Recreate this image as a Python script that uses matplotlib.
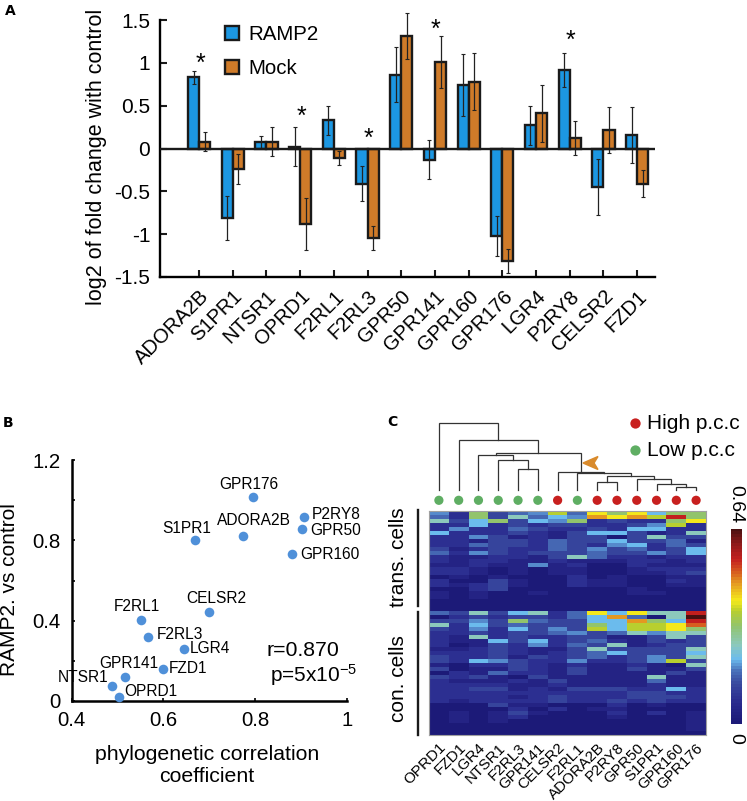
import numpy as np
import matplotlib
matplotlib.use('Agg')
import matplotlib.pyplot as plt
from matplotlib.colors import LinearSegmentedColormap
from matplotlib.patches import Polygon

plt.rcParams['font.family'] = ['Liberation Sans', 'DejaVu Sans']
plt.rcParams['mathtext.default'] = 'regular'

W, H = 747, 801

# Panel A data
genes_a = ['ADORA2B', 'S1PR1', 'NTSR1', 'OPRD1', 'F2RL1', 'F2RL3', 'GPR50', 'GPR141',
           'GPR160', 'GPR176', 'LGR4', 'P2RY8', 'CELSR2', 'FZD1']
ramp2 = [0.83, -0.81, 0.08, 0.02, 0.33, -0.41, 0.86, -0.13, 0.74, -1.02, 0.27, 0.92, -0.45, 0.16]
mock = [0.08, -0.24, 0.08, -0.88, -0.11, -1.04, 1.31, 1.01, 0.78, -1.31, 0.41, 0.12, 0.22, -0.41]
ramp2_err = [0.08, 0.26, 0.07, 0.23, 0.17, 0.20, 0.32, 0.23, 0.36, 0.235, 0.23, 0.20, 0.325, 0.325]
mock_err = [0.11, 0.17, 0.17, 0.30, 0.08, 0.14, 0.27, 0.30, 0.33, 0.14, 0.33, 0.20, 0.27, 0.16]
star_genes = [0, 3, 5, 7, 11]
star_y = [0.99, 0.37, 0.11, 1.385, 1.26]

# Panel B data
genes_b = ['GPR176', 'P2RY8', 'GPR50', 'GPR160', 'ADORA2B', 'S1PR1', 'CELSR2', 'F2RL1',
           'F2RL3', 'LGR4', 'FZD1', 'GPR141', 'NTSR1', 'OPRD1']
pcc = [0.796, 0.907, 0.902, 0.880, 0.773, 0.669, 0.700, 0.551, 0.566, 0.644, 0.600, 0.516, 0.487, 0.503]
ramp2_vs = [1.016, 0.918, 0.856, 0.730, 0.820, 0.800, 0.445, 0.402, 0.320, 0.259, 0.161, 0.120, 0.073, 0.020]

# Panel C data, one character per cell, rows from top to bottom
genes_c = ['OPRD1', 'FZD1', 'LGR4', 'NTSR1', 'F2RL3', 'GPR141', 'CELSR2', 'F2RL1',
           'ADORA2B', 'P2RY8', 'GPR50', 'S1PR1', 'GPR160', 'GPR176']
high_pcc = [0, 0, 0, 0, 0, 0, 1, 0, 1, 1, 1, 1, 1, 1]
heat_left = [
    '5283459', '4283746', '7368365', '2262323', '2522432', '6222321', '2253121', '2213324',
    '2243324', '3123224', '4253233', '2112213', '2122112', '1121151', '2210101', '2210101',
    '0101000', '2003100', '2123100', '0023000', '1010010', '1010000', '0000000', '0000000',
    '0000000', '4373672', '0232332', '3353843', '7263433', '3252635', '2232334', '2172322',
    '2116362', '2013252', '1123211', '2223212', '3223132', '3265322', '1022321', '3011321',
    '0214221', '3231031', '2111213', '2222112', '2233121', '2222222', '2222123', '2122223',
    '0003110', '0000202', '0101310', '0101200', '0101000', '0000000', '0000000', '0000000',
]
heat_right = [
    '4a8a688', '5bab9d8', '823228a', '3223592', '2326622', '3663127', '3303733', '3363341',
    '3256243', '3534236', '3433536', '7422122', '1112212', '2002111', '1001222', '1001123',
    '2010011', '2110021', '2110011', '0001000', '0001100', '0000000', '0000000', '0000000',
    '0000000', '4a6a77d', '46b407f', '366b86d', '38699ac', '39699a8', '5347577', '3311373',
    '3421323', '4371233', '3733337', '3463336', '3423537', '5223593', '2112107', '3113113',
    '3111131', '1111711', '1111411', '1111211', '3332262', '2223322', '2223332', '2232322',
    '0020100', '0110000', '0020201', '0010001', '0000001', '0000001', '0000001', '0000000',
]
level_codes = '0123456789abcdef'
level_values = [0.0, 0.06, 0.12, 0.18, 0.25, 0.29, 0.33, 0.40, 0.50, 0.58, 0.63, 0.72, 0.78, 0.85, 0.93, 1.0]
heat_max = 0.64

# Dendrogram merges: left node, right node, height (leaves are 0-13, later nodes 14, 15, ...)
merges = [(12, 13, 3.3), (11, 14, 6), (10, 15, 11), (8, 9, 7.7), (17, 16, 14.3), (7, 18, 16.7),
          (6, 19, 17.7), (4, 5, 21), (3, 21, 30), (2, 22, 35), (23, 20, 36.7), (1, 24, 50), (0, 25, 66.7)]

cmap_stops = [(0, '#1c1a78'), (0.1, '#2a2a8e'), (0.2, '#3a4ba0'), (0.27, '#4a72bb'), (0.33, '#6cbcee'),
              (0.4, '#8cc9bc'), (0.5, '#92c46e'), (0.58, '#b8cf30'), (0.63, '#f5ea1c'), (0.72, '#e59a22'),
              (0.78, '#d8601f'), (0.85, '#c4201f'), (0.93, '#8a1a1a'), (1, '#4a1010')]
heat_cmap = LinearSegmentedColormap.from_list('heat', cmap_stops)


def px_axes(fig, left, top, right, bottom):
    # axes placed by pixel edges, y counted from the top of the image
    return fig.add_axes([left / W, 1 - bottom / H, (right - left) / W, (bottom - top) / H])


fig = plt.figure(figsize=(W / 100, H / 100), dpi=100)

# ---- Panel A ----
ax = px_axes(fig, 160, 20, 655, 277)
x = np.arange(len(genes_a))
bw = 0.33
bar_kw = dict(edgecolor='#1a1a1a', linewidth=1.7, zorder=2)
err_kw = dict(ecolor='#222222', elinewidth=0.9, capsize=1.6, capthick=0.8)
ax.bar(x - bw / 2, ramp2, bw, color='#1c97e2', label='RAMP2', **bar_kw)
ax.bar(x + bw / 2, mock, bw, color='#cf7b29', label='Mock', **bar_kw)
for pos, vals, errs in [(x - bw / 2, ramp2, ramp2_err), (x + bw / 2, mock, mock_err)]:
    eb = ax.errorbar(pos, vals, yerr=errs, fmt='none', zorder=3, **err_kw)
    for part in eb.lines[1] + eb.lines[2]:
        part.set_clip_on(False)
ax.axhline(0, color='#1a1a1a', lw=1.7, zorder=4)
ax.set_xlim(-1.16, 13.53)
ax.set_ylim(-1.5, 1.5)
ax.set_yticks([-1.5, -1, -0.5, 0, 0.5, 1, 1.5])
ax.set_yticklabels(['-1.5', '-1', '-0.5', '0', '0.5', '1', '1.5'], fontsize=15)
ax.set_xticks(x)
ax.set_xticklabels(genes_a, rotation=45, ha='right', rotation_mode='anchor', fontsize=14.5)
ax.tick_params(axis='both', direction='in', length=5, width=1.5, color='#1a1a1a')
ax.tick_params(axis='y', pad=7)
ax.tick_params(axis='x', pad=7)
ax.spines['top'].set_visible(False)
ax.spines['right'].set_visible(False)
ax.spines['left'].set_linewidth(1.7)
ax.spines['bottom'].set_linewidth(1.7)
fig.text(97 / W, 1 - 157 / H, 'log2 of fold change with control', fontsize=15.5, rotation=90,
         ha='center', va='center')
for g, sy in zip(star_genes, star_y):
    ax.text(g + 0.03, sy, '*', fontsize=18, ha='center', va='center', clip_on=False)
ax.legend(loc='upper left', bbox_to_anchor=((209 - 160) / 495, 1.045), frameon=False, fontsize=14.8,
          handlelength=0.65, handleheight=0.65, handletextpad=0.45, labelspacing=0.74, borderpad=0.3)

# ---- Panel B ----
ax = px_axes(fig, 71.7, 460, 347, 701)
ax.scatter(pcc, ramp2_vs, s=48, color='#4f90d9', zorder=3, clip_on=False, linewidths=0)
label_off = [(-4.3, 12.7), (31.7, 2.3), (33.3, -1.3), (38, 0.3), (10.7, 15.7), (-8.3, 11.7), (7, 13),
             (-4.3, 14), (32, 2.7), (26.7, 0), (25, 0), (3.7, 13.3), (-29, 9.3), (32, 5)]
for name, px_, py_, off in zip(genes_b, pcc, ramp2_vs, label_off):
    ax.annotate(name, (px_, py_), xytext=off, textcoords='offset pixels', fontsize=11.2,
                ha='center', va='center', zorder=4)
ax.set_xlim(0.4, 1)
ax.set_ylim(0, 1.2)
ax.set_xticks([0.4, 0.6, 0.8, 1])
ax.set_xticklabels(['0.4', '0.6', '0.8', '1'], fontsize=14.7)
ax.set_yticks([0, 0.4, 0.8, 1.2])
ax.set_yticklabels(['0', '0.4', '0.8', '1.2'], fontsize=14.7)
ax.set_yticks([0.2, 0.6, 1.0], minor=True)
ax.tick_params(axis='both', which='both', direction='in', length=2, width=1.2)
ax.tick_params(axis='x', pad=7)
ax.tick_params(axis='y', pad=8)
ax.spines['top'].set_visible(False)
ax.spines['right'].set_visible(False)
ax.spines['left'].set_linewidth(1.8)
ax.spines['bottom'].set_linewidth(1.8)
fig.text(207 / W, 1 - 765 / H, 'phylogenetic correlation\ncoefficient', fontsize=15.3, ha='center',
         va='center', linespacing=1.2)
fig.text(10 / W, 1 - 590 / H, 'RAMP2. vs control', fontsize=15, rotation=90, ha='center', va='center')
fig.text(267 / W, 1 - 650 / H, 'r=0.870', fontsize=15.3, ha='left', va='center')
fig.text(270 / W, 1 - 675 / H, 'p=5x10$^{-5}$', fontsize=15, ha='left', va='center')

# ---- Panel C heatmap ----
n_col = len(genes_c)
codes = [a + b for a, b in zip(heat_left, heat_right)]
heat = np.array([[level_values[level_codes.index(c)] * heat_max for c in r] for r in codes])
ax = px_axes(fig, 429, 511, 706, 735)
ax.imshow(heat, cmap=heat_cmap, vmin=0, vmax=heat_max, aspect='auto', interpolation='nearest')
ax.set_xticks(np.arange(n_col))
ax.set_xticklabels(genes_c, rotation=45, ha='right', rotation_mode='anchor', fontsize=11)
ax.set_yticks([])
ax.tick_params(axis='x', length=0, pad=4)
for side in ax.spines.values():
    side.set_color('#a0a0a0')
    side.set_linewidth(0.8)

# ---- Panel C dendrogram and dots ----
ax = px_axes(fig, 429, 420, 706, 505)
ax.set_xlim(-0.5, n_col - 0.5)
ax.set_ylim(-15, 70)
ax.axis('off')
node_x = {i: float(i) for i in range(n_col)}
node_h = {i: 0.0 for i in range(n_col)}
for k, (left, right, h) in enumerate(merges):
    xl, xr = node_x[left], node_x[right]
    ax.plot([xl, xl, xr, xr], [node_h[left], h, h, node_h[right]], color='#333333', lw=0.9,
            solid_joinstyle='miter')
    node_x[n_col + k] = (xl + xr) / 2
    node_h[n_col + k] = h
dot_colors = ['#c8201f' if v else '#5fae63' for v in high_pcc]
ax.scatter(np.arange(n_col), [-10.3] * n_col, s=44, c=dot_colors, linewidths=0, clip_on=False)

# overlay in image pixels for the loose annotations
leg = fig.add_axes([0, 0, 1, 1], facecolor='none')
leg.set_xlim(0, W)
leg.set_ylim(H, 0)
leg.axis('off')
leg.add_patch(Polygon([(583, 463), (598, 456.5), (594, 463), (598, 469.5)], closed=True, color='#d98a2b'))
leg.scatter([634.7], [423.3], s=55, color='#c8201f', linewidths=0)
leg.scatter([634.7], [450], s=55, color='#5fae63', linewidths=0)
leg.text(647, 423.3, 'High p.c.c', fontsize=15, va='center')
leg.text(647, 450, 'Low p.c.c', fontsize=15, va='center')
leg.plot([418, 418], [510, 606], color='#1a1a1a', lw=1.7)
leg.plot([418, 418], [612, 735], color='#1a1a1a', lw=1.7)
leg.text(399, 557, 'trans. cells', rotation=90, fontsize=15, ha='center', va='center')
leg.text(399, 679, 'con. cells', rotation=90, fontsize=15, ha='center', va='center')
leg.text(736, 504, '0.64', rotation=270, fontsize=14, ha='center', va='center')
leg.text(736, 738, '0', rotation=270, fontsize=14, ha='center', va='center')
leg.text(10, 11, 'A', family='DejaVu Sans', fontweight='bold', fontsize=10, ha='center', va='center')
leg.text(8, 423, 'B', family='DejaVu Sans', fontweight='bold', fontsize=10, ha='center', va='center')
leg.text(392, 422, 'C', family='DejaVu Sans', fontweight='bold', fontsize=10, ha='center', va='center')

# ---- Colour bar ----
cax = px_axes(fig, 731, 529, 742, 724)
gradient = np.linspace(heat_max, 0, 64).reshape(-1, 1)
cax.imshow(gradient, cmap=heat_cmap, vmin=0, vmax=heat_max, aspect='auto')
cax.axis('off')

fig.savefig('out.png', dpi=100)
